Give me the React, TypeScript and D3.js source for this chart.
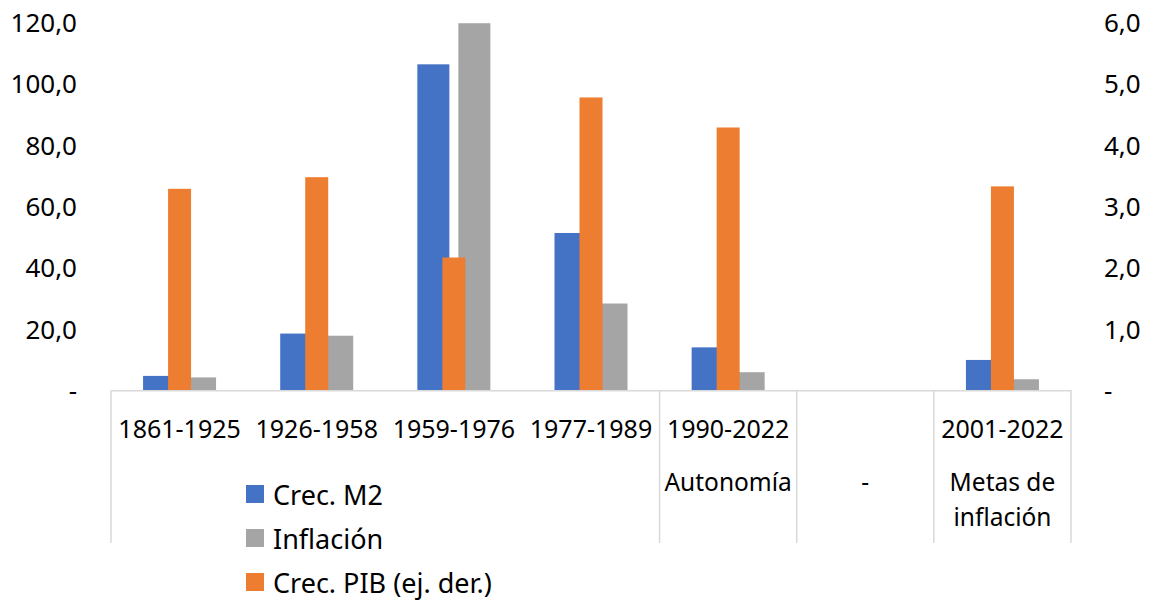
import React from 'react';
import * as d3 from 'd3';

const categories = ['1861-1925', '1926-1958', '1959-1976', '1977-1989', '1990-2022', '', '2001-2022'];
const groupLabels = [
  { from: 0, to: 3, lines: [] as string[] },
  { from: 4, to: 4, lines: ['Autonomía'] },
  { from: 5, to: 5, lines: ['-'] },
  { from: 6, to: 6, lines: ['Metas de', 'inflación'] },
];
const crecM2: (number | null)[] = [4.6, 18.4, 106.2, 51.2, 13.9, null, 9.8];
const inflacion: (number | null)[] = [4.1, 17.7, 119.6, 28.2, 5.8, null, 3.5];
const crecPIB: (number | null)[] = [3.28, 3.47, 2.16, 4.77, 4.28, null, 3.32];
const leftTicks = [0, 20, 40, 60, 80, 100, 120];
const rightTicks = [0, 1, 2, 3, 4, 5, 6];
const legendItems = [
  { name: 'Crec. M2', color: '#4472C4' },
  { name: 'Inflación', color: '#A5A5A5' },
  { name: 'Crec. PIB (ej. der.)', color: '#ED7D31' },
];

const W = 1150;
const H = 601;
const FONT = '"Noto Sans", "Open Sans", sans-serif';

const fmt = (v: number) => (v === 0 ? '-' : v.toFixed(1).replace('.', ','));

export default function App() {
  const left = 111;
  const right = 1071;
  const base = 390;
  const top = 22;
  const x = d3.scaleBand<number>().domain(categories.map((_, i) => i)).range([left, right]);
  const yL = d3.scaleLinear().domain([0, 120]).range([base, top]);
  const yR = d3.scaleLinear().domain([0, 6]).range([base, top]);
  const bw = x.bandwidth();
  const sepBottom = 543;
  const catY = 428;

  const center = (i: number) => (x(i) as number) + bw / 2;

  return (
    <svg width={W} height={H} style={{ position: 'absolute', left: 0, top: 0, background: '#fff' }} fontFamily={FONT}>
      {leftTicks.map((t) => (
        <text key={'l' + t} x={77} y={yL(t)} textAnchor="end" dominantBaseline="central" fontSize={26} fill="#000">
          {fmt(t)}
        </text>
      ))}
      {rightTicks.map((t) => (
        <text key={'r' + t} x={1104} y={yR(t)} textAnchor="start" dominantBaseline="central" fontSize={26} fill="#000">
          {fmt(t)}
        </text>
      ))}

      {categories.map((_, i) => {
        const c = center(i);
        const a = crecM2[i];
        const b = inflacion[i];
        return (
          <g key={'p' + i}>
            {a != null && <rect x={c - 36.5} y={yL(a)} width={32} height={base - yL(a)} fill="#4472C4" />}
            {b != null && <rect x={c + 4.5} y={yL(b)} width={32} height={base - yL(b)} fill="#A5A5A5" />}
          </g>
        );
      })}
      {categories.map((_, i) => {
        const c = center(i);
        const v = crecPIB[i];
        return v != null ? (
          <rect key={'s' + i} x={c - 11.5} y={yR(v)} width={23} height={base - yR(v)} fill="#ED7D31" />
        ) : null;
      })}

      <line x1={left} x2={right} y1={base + 0.75} y2={base + 0.75} stroke="#D9D9D9" strokeWidth={1.5} />
      {[left, ...groupLabels.map((g) => (x(g.to) as number) + bw)].map((sx, i) => (
        <line key={'sep' + i} x1={sx} x2={sx} y1={base} y2={sepBottom} stroke="#D9D9D9" strokeWidth={1.5} />
      ))}

      {categories.map((c, i) => (
        <text key={'c' + i} x={center(i)} y={catY} textAnchor="middle" dominantBaseline="central" fontSize={25} fill="#000">
          {c}
        </text>
      ))}
      {groupLabels.map((g, gi) => {
        const gx = ((x(g.from) as number) + (x(g.to) as number) + bw) / 2;
        return g.lines.map((ln, li) => (
          <text key={'g' + gi + '-' + li} x={gx} y={481 + li * 35} textAnchor="middle" dominantBaseline="central" fontSize={24.5} fill="#000">
            {ln}
          </text>
        ));
      })}

      {legendItems.map((it, i) => (
        <g key={'lg' + i} transform={`translate(246, ${494 + i * 44})`}>
          <rect x={0} y={-9} width={18} height={18} fill={it.color} />
          <text x={27} y={0} dominantBaseline="central" fontSize={27} fill="#000">
            {it.name}
          </text>
        </g>
      ))}
    </svg>
  );
}
